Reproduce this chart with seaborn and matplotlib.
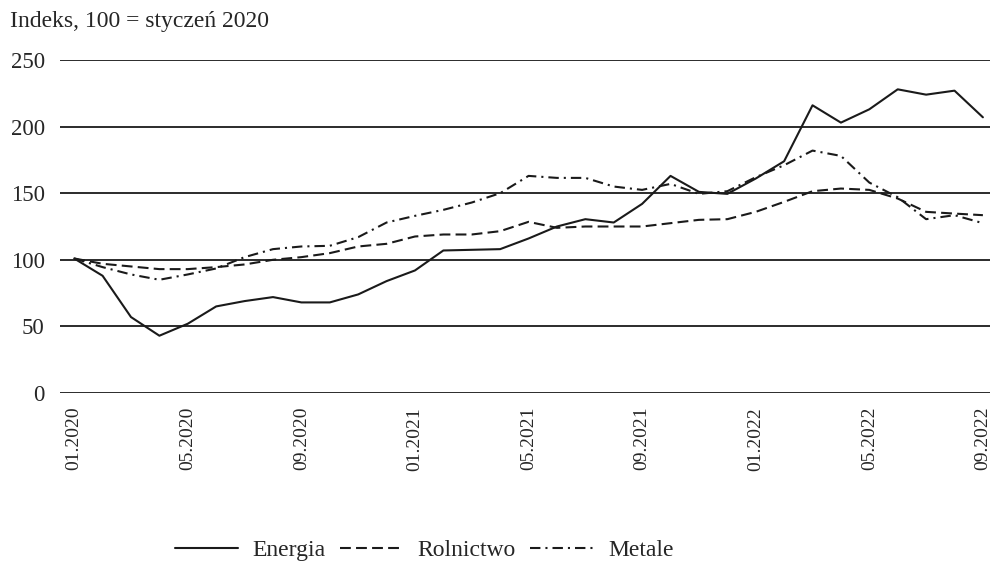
import pandas as pd
import seaborn as sns
import matplotlib.pyplot as plt

# monthly index values, 01.2020 - 09.2022 (100 = styczeń 2020)
months = pd.period_range('2020-01', '2022-09', freq='M').strftime('%m.%Y').tolist()

energia = [101, 88, 57, 43, 52, 65, 69, 72, 68, 68, 74, 84, 92, 107, 107.5, 108,
           116, 125, 130.5, 128, 142, 163, 151, 149.5, 161, 174, 216, 203, 213,
           228, 224, 227, 207]
rolnictwo = [101, 97, 95, 93, 93, 94.5, 96.5, 100, 102, 105, 110, 112, 117.5, 119,
             119, 121.5, 128.5, 124, 125, 125, 125, 127.5, 130, 130.5, 136, 143.5,
             151.5, 153.5, 152.5, 146, 136, 134.7, 133.5]
metale = [101, 94.5, 89, 85, 89, 93.5, 102, 108, 110, 110.5, 117, 128, 133, 137.5,
          143, 150, 163, 161.5, 161.5, 155, 152.5, 157, 149.5, 151.5, 162, 171, 182,
          178, 158, 147, 130.5, 133.5, 127.5]

series_names = ['Energia', 'Rolnictwo', 'Metale']
yticks = [0, 50, 100, 150, 200, 250]

# long format for seaborn
df = pd.DataFrame({
    'idx': list(range(len(months))) * 3,
    'value': energia + rolnictwo + metale,
    'series': [s for s in series_names for _ in months],
})

sns.set_style('white')
plt.rcParams['font.family'] = ['Liberation Serif', 'DejaVu Serif']

fig = plt.figure(figsize=(9.92, 5.61), dpi=100)
ax = fig.add_axes([60 / 992, 0.2995, 930 / 992, 0.5935])

sns.lineplot(data=df, x='idx', y='value', hue='series', style='series',
             hue_order=series_names, style_order=series_names,
             palette=['#1a1a1a'] * 3,
             dashes={'Energia': '', 'Rolnictwo': (5.2, 2.5), 'Metale': (5, 2.4, 1, 2.4)},
             linewidth=1.5, ax=ax, legend=False)

ax.set_ylim(0, 250)
ax.set_xlim(-0.5, len(months) - 1 + 0.25)
ax.set_yticks(yticks)
ax.set_yticklabels([str(t) for t in yticks], fontsize=16.5)
ax.set_xticks(range(0, len(months), 4))
ax.set_xticklabels(months[::4], rotation=90, fontsize=14)
ax.tick_params(axis='both', length=0)
ax.tick_params(axis='x', pad=10)
ax.tick_params(axis='y', pad=11)
ax.yaxis.grid(True, color='#1a1a1a', linewidth=1.3)
ax.set_axisbelow(True)
sns.despine(ax=ax, left=True, bottom=True)
ax.set_xlabel('')
ax.set_ylabel('')

fig.text(10 / 992, 1 - 21 / 561, 'Indeks, 100 = styczeń 2020', fontsize=17,
         va='center', ha='left')

# legend handles
handles = ax.get_lines()[:3]
fig.legend(handles, series_names, loc='center', bbox_to_anchor=(424 / 992, 1 - 550 / 561),
           ncol=3, frameon=False, fontsize=17, handlelength=2.7, handletextpad=0.6,
           columnspacing=0.6)

fig.savefig('out.png', dpi=100)
